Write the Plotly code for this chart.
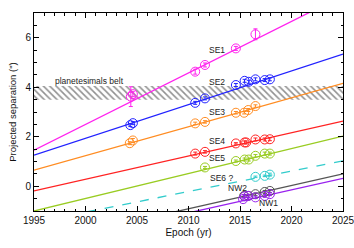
import plotly.graph_objects as go

# ---- data ----
se1_epoch = [2004.4, 2004.6, 2010.65, 2011.6, 2014.6, 2016.5]
se1_sep = [3.62, 3.72, 4.63, 4.90, 5.57, 6.14]
se1_err = [0.40, 0.10, 0.10, 0.08, 0.08, 0.22]

se2_epoch = [2004.35, 2004.6, 2010.65, 2011.6, 2014.6, 2015.45, 2015.85, 2016.5, 2017.4, 2017.9]
se2_sep = [2.47, 2.55, 3.37, 3.55, 4.09, 4.26, 4.22, 4.32, 4.29, 4.32]
se2_err = [0.06, 0.06, 0.06, 0.06, 0.06, 0.06, 0.06, 0.06, 0.06, 0.06]

se3_epoch = [2004.3, 2004.6, 2010.65, 2011.6, 2014.6, 2015.4, 2015.8, 2016.5]
se3_sep = [1.74, 1.85, 2.54, 2.60, 2.97, 2.97, 3.08, 3.24]
se3_err = [0.06, 0.08, 0.05, 0.05, 0.05, 0.05, 0.06, 0.05]

se4_epoch = [2010.65, 2011.6, 2014.6, 2015.45, 2015.6, 2016.5, 2017.4, 2017.9]
se4_sep = [1.32, 1.39, 1.73, 1.77, 1.77, 1.89, 1.89, 1.90]
se4_err = [0.06, 0.05, 0.03, 0.06, 0.06, 0.06, 0.06, 0.06]

se5_epoch = [2011.6, 2014.6, 2015.45, 2015.85, 2016.5, 2017.4, 2017.9]
se5_sep = [0.76, 1.02, 1.08, 1.08, 1.23, 1.32, 1.32]
se5_err = [0.04, 0.04, 0.06, 0.06, 0.05, 0.06, 0.06]

se6_epoch = [2016.5, 2017.4, 2017.9]
se6_sep = [0.38, 0.42, 0.47]
se6_err = [0.03, 0.03, 0.06]

nw2_epoch = [2015.4, 2015.8, 2016.5, 2017.4, 2017.9]
nw2_sep = [-0.39, -0.39, -0.32, -0.23, -0.19]
nw2_err = [0.06, 0.06, 0.05, 0.06, 0.06]

nw1_epoch = [2015.3, 2015.45, 2015.8, 2016.5, 2017.4, 2017.9]
nw1_sep = [-0.52, -0.41, -0.39, -0.45, -0.39, -0.32]
nw1_err = [0.05, 0.05, 0.06, 0.05, 0.06, 0.06]

# linear fits: value at 1995 and slope per year
fit_names = ["SE1", "SE2", "SE3", "SE4", "SE5", "SE6", "NW2", "NW1"]
fit_at_1995 = [1.46, 1.26, 0.65, -0.19, -1.00, -1.46, -2.32, -2.47]
fit_slope = [0.208, 0.136, 0.117, 0.094, 0.101, 0.083, 0.094, 0.093]

belt_low, belt_high = 3.5, 4.05
x_range = [1995, 2025]

colors = {"SE1": "#ff22ee", "SE2": "#2222ff", "SE3": "#ff8c22", "SE4": "#ff2222",
          "SE5": "#99cc22", "SE6": "#33cccc", "NW2": "#555555", "NW1": "#9922ee"}

label_text = ["planetesimals belt", "SE1", "SE2", "SE3", "SE4", "SE5", "SE6 ?", "NW2", "NW1"]
label_x = [2000.4, 2012.8, 2012.8, 2012.8, 2012.8, 2012.8, 2013.2, 2014.8, 2017.8]
label_y = [4.27, 5.5, 4.22, 3.0, 1.82, 1.16, 0.35, -0.06, -0.66]

points = {
    "SE1": (se1_epoch, se1_sep, se1_err), "SE2": (se2_epoch, se2_sep, se2_err),
    "SE3": (se3_epoch, se3_sep, se3_err), "SE4": (se4_epoch, se4_sep, se4_err),
    "SE5": (se5_epoch, se5_sep, se5_err), "SE6": (se6_epoch, se6_sep, se6_err),
    "NW2": (nw2_epoch, nw2_sep, nw2_err), "NW1": (nw1_epoch, nw1_sep, nw1_err),
}

fig = go.Figure()

# hatched belt
fig.add_trace(go.Scatter(
    x=[x_range[0], x_range[1], x_range[1], x_range[0], x_range[0]],
    y=[belt_low, belt_low, belt_high, belt_high, belt_low],
    mode="lines", fill="toself", line=dict(width=0, color="rgba(0,0,0,0)"),
    fillcolor="rgba(0,0,0,0)",
    fillpattern=dict(shape="\\", fgcolor="#222222", bgcolor="rgba(255,255,255,0)",
                     size=4.5, solidity=0.35),
    hoverinfo="skip", showlegend=False))

# fit lines
for name, a, b in zip(fit_names, fit_at_1995, fit_slope):
    xs = [x_range[0], x_range[1]]
    ys = [a + b * (x - 1995) for x in xs]
    fig.add_trace(go.Scatter(
        x=xs, y=ys, mode="lines",
        line=dict(color=colors[name], width=1.3, dash="dash" if name == "SE6" else "solid"),
        showlegend=False, hoverinfo="skip"))

# data points
for name, (ex, sy, er) in points.items():
    fig.add_trace(go.Scatter(
        x=ex, y=sy, mode="markers",
        marker=dict(symbol="circle-open", size=9, color=colors[name], line=dict(width=1)),
        error_y=dict(type="data", array=er, color=colors[name], thickness=1, width=2),
        showlegend=False))

for t, x, y in zip(label_text, label_x, label_y):
    fig.add_annotation(x=x, y=y, text=t, showarrow=False,
                       font=dict(size=8.5, color="#222222", family="Liberation Sans, Arial"))

axis_common = dict(showline=True, linecolor="black", linewidth=1, mirror="ticks",
                   ticks="inside", ticklen=5, tickcolor="black", showgrid=False,
                   zeroline=False, automargin=False, ticklabeloverflow="allow",
                   tickfont=dict(size=10, color="#111111"))

fig.update_xaxes(range=x_range, tick0=1995, dtick=5,
                 minor=dict(ticks="inside", ticklen=2.5, dtick=1, tickcolor="black", showgrid=False),
                 title=dict(text="Epoch (yr)", font=dict(size=10, color="#111111"), standoff=3),
                 **axis_common)
fig.update_yaxes(range=[-1, 7], tick0=0, dtick=2,
                 minor=dict(ticks="inside", ticklen=2.5, dtick=0.5, tickcolor="black", showgrid=False),
                 title=dict(text="Projected separation (\")", font=dict(size=9.5, color="#111111"), standoff=7),
                 **axis_common)

fig.update_layout(width=354, height=248, margin=dict(l=34, r=11, t=13, b=37),
                  paper_bgcolor="white", plot_bgcolor="white",
                  font=dict(family="Liberation Sans, Arial", size=10, color="#111111"))

fig.write_html("out.html", config={"displayModeBar": False},
               post_script="document.body.style.margin='0';document.body.style.overflow='hidden';")
